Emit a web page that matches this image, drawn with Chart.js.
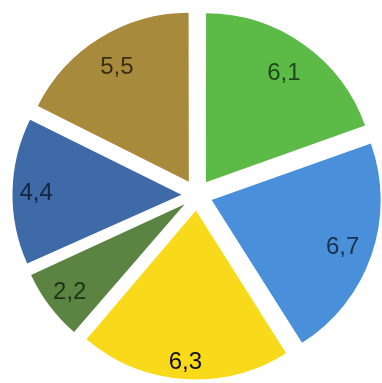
<!DOCTYPE html>
<html>
<head>
<meta charset="utf-8">
<script src="https://cdn.jsdelivr.net/npm/chart.js@4/dist/chart.umd.min.js"></script>
<style>
html,body{margin:0;padding:0;background:#fff;overflow:hidden;width:382px;height:383px;}
#wrap{position:absolute;left:-3px;top:-5px;width:400px;height:400px;}
</style>
</head>
<body>
<div id="wrap"><canvas id="c" width="400" height="400"></canvas></div>
<script>
const categories = ["A", "B", "C", "D", "E", "F"];
const values = [6.1, 6.7, 6.3, 2.2, 4.4, 5.5];
const valueLabels = ["6,1", "6,7", "6,3", "2,2", "4,4", "5,5"];

// styles (kept separate from data)
const colors = ["#5cba47", "#4a8fd9", "#f9da1a", "#5b8442", "#3f6aa8", "#a88a3c"];
const labelColors = ["rgba(20,50,20,0.85)", "rgba(20,30,50,0.85)", "#111", "rgba(20,35,15,0.85)", "rgba(15,25,45,0.85)", "rgba(35,30,10,0.85)"];
const labelRadialFraction = [0.80, 0.82, 0.89, 0.85, 0.86, 0.81];

// Keep all exploded slices at the same radius (Chart.js enlarges narrow exploded arcs).
const equalRadiusPlugin = {
  id: 'equalRadius',
  beforeDatasetsDraw(chart) {
    chart.getDatasetMeta(0).data.forEach(arc => {
      const off = (arc.options.offset || 0) / 4;
      const fix = 1 - Math.sin(Math.min(Math.PI, arc.circumference || 0));
      arc._origOuter = arc.outerRadius;
      arc.outerRadius = arc.outerRadius - off * fix;
    });
  },
  afterDatasetsDraw(chart) {
    chart.getDatasetMeta(0).data.forEach(arc => {
      if (arc._origOuter !== undefined) arc.outerRadius = arc._origOuter;
    });
  }
};

const labelPlugin = {
  id: 'sliceLabels',
  afterDatasetsDraw(chart) {
    const ctx = chart.ctx;
    const meta = chart.getDatasetMeta(0);
    const fontSize = 24;
    ctx.save();
    ctx.textAlign = 'center';
    ctx.textBaseline = 'alphabetic';
    meta.data.forEach((arc, i) => {
      const p = arc.getProps(['x','y','startAngle','endAngle','outerRadius'], true);
      const off = (arc.options.offset || 0) / 4;
      const mid = (p.startAngle + p.endAngle) / 2;
      const r = p.outerRadius * labelRadialFraction[i] + off;
      const x = p.x + Math.cos(mid) * r;
      const y = p.y + Math.sin(mid) * r;
      ctx.font = fontSize + 'px "Liberation Sans", Arial, sans-serif';
      ctx.fillStyle = labelColors[i];
      ctx.fillText(valueLabels[i], x, y + fontSize * 0.36);
    });
    ctx.restore();
  }
};

new Chart(document.getElementById('c'), {
  type: 'pie',
  data: {
    labels: categories,
    datasets: [{
      data: values,
      backgroundColor: colors,
      borderWidth: 0,
      offset: 62,
      hoverOffset: 62,
      clip: false
    }]
  },
  options: {
    responsive: false,
    animation: false,
    events: [],
    layout: { padding: 0 },
    plugins: { legend: { display: false }, tooltip: { enabled: false } }
  },
  plugins: [equalRadiusPlugin, labelPlugin]
});
</script>
</body>
</html>
